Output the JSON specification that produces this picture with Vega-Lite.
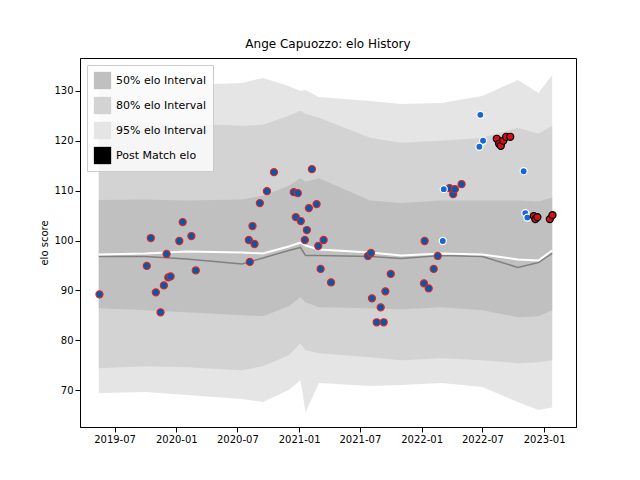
{
"$schema":"https://vega.github.io/schema/vega-lite/v6.json",
"width":496,"height":369,"autosize":"none",
"padding":{"left":80,"top":58,"right":64,"bottom":53},
"background":"white",
"title":{"text":"Ange Capuozzo: elo History","fontSize":12,"fontWeight":"normal","font":"DejaVu Sans","offset":7},
"config":{"font":"DejaVu Sans","view":{"stroke":"black"},"axis":{"grid":false,"labelFont":"DejaVu Sans","labelFontSize":10,"titleFont":"DejaVu Sans","titleFontWeight":"normal","titleFontSize":10,"domainColor":"black","tickColor":"black","labelColor":"black"}},
"datasets":{
"bands":[
{"date":"2019-05-15","lo95":69.4,"lo80":74.4,"lo50":86.4,"hi50":108.1,"hi80":123.8,"hi95":130.8,"mean":97.2,"med":96.8},
{"date":"2019-10-01","lo95":69.6,"lo80":74.8,"lo50":86.0,"hi50":108.2,"hi80":123.6,"hi95":131.0,"mean":97.4,"med":96.8},
{"date":"2020-02-01","lo95":69.0,"lo80":74.6,"lo50":85.6,"hi50":108.0,"hi80":123.4,"hi95":131.2,"mean":97.8,"med":96.3},
{"date":"2020-07-15","lo95":68.2,"lo80":74.0,"lo50":85.0,"hi50":108.2,"hi80":123.0,"hi95":131.6,"mean":97.6,"med":95.3},
{"date":"2020-09-15","lo95":67.6,"lo80":74.8,"lo50":84.8,"hi50":109.0,"hi80":123.2,"hi95":132.6,"mean":97.4,"med":96.5},
{"date":"2020-12-01","lo95":70.0,"lo80":77.0,"lo50":86.8,"hi50":111.0,"hi80":125.0,"hi95":131.0,"mean":98.8,"med":98.0},
{"date":"2021-01-05","lo95":72.0,"lo80":79.4,"lo50":88.6,"hi50":112.5,"hi80":126.0,"hi95":130.0,"mean":99.6,"med":98.6},
{"date":"2021-01-20","lo95":65.5,"lo80":78.0,"lo50":87.6,"hi50":111.8,"hi80":125.4,"hi95":130.2,"mean":99.0,"med":97.0},
{"date":"2021-03-01","lo95":71.4,"lo80":77.4,"lo50":86.6,"hi50":112.5,"hi80":124.6,"hi95":128.8,"mean":98.2,"med":97.0},
{"date":"2021-08-01","lo95":70.8,"lo80":76.6,"lo50":86.4,"hi50":108.0,"hi80":120.6,"hi95":128.0,"mean":97.6,"med":96.8},
{"date":"2021-11-01","lo95":71.0,"lo80":76.0,"lo50":86.2,"hi50":107.5,"hi80":119.6,"hi95":127.4,"mean":97.0,"med":96.4},
{"date":"2022-03-01","lo95":71.4,"lo80":76.4,"lo50":86.6,"hi50":108.0,"hi80":120.0,"hi95":127.6,"mean":97.4,"med":97.0},
{"date":"2022-07-01","lo95":70.6,"lo80":76.0,"lo50":86.0,"hi50":108.0,"hi80":120.6,"hi95":129.0,"mean":97.2,"med":96.8},
{"date":"2022-10-15","lo95":67.6,"lo80":75.4,"lo50":84.6,"hi50":108.0,"hi80":122.6,"hi95":132.2,"mean":96.2,"med":94.6},
{"date":"2022-12-15","lo95":66.0,"lo80":75.6,"lo50":84.8,"hi50":107.8,"hi80":121.4,"hi95":129.6,"mean":96.0,"med":95.6},
{"date":"2023-01-25","lo95":66.5,"lo80":76.0,"lo50":86.0,"hi50":108.6,"hi80":123.0,"hi95":133.2,"mean":98.0,"med":97.4}
],
"pts":[
{"date":"2019-05-17","elo":89.2,"g":"a"},{"date":"2019-10-05","elo":94.9,"g":"a"},{"date":"2019-10-17","elo":100.5,"g":"a"},{"date":"2019-11-01","elo":89.6,"g":"a"},{"date":"2019-11-15","elo":85.6,"g":"a"},{"date":"2019-11-25","elo":91.0,"g":"a"},{"date":"2019-12-08","elo":92.6,"g":"a"},{"date":"2019-12-15","elo":92.8,"g":"a"},{"date":"2019-12-03","elo":97.3,"g":"a"},{"date":"2020-01-10","elo":99.9,"g":"a"},{"date":"2020-01-20","elo":103.7,"g":"a"},{"date":"2020-02-15","elo":100.9,"g":"a"},{"date":"2020-02-28","elo":94.0,"g":"a"},
{"date":"2020-08-04","elo":100.1,"g":"a"},{"date":"2020-08-07","elo":95.7,"g":"a"},{"date":"2020-08-15","elo":102.9,"g":"a"},{"date":"2020-08-21","elo":99.3,"g":"a"},{"date":"2020-09-06","elo":107.5,"g":"a"},{"date":"2020-09-27","elo":109.9,"g":"a"},{"date":"2020-10-18","elo":113.7,"g":"a"},{"date":"2020-12-16","elo":109.7,"g":"a"},{"date":"2020-12-28","elo":109.5,"g":"a"},{"date":"2020-12-22","elo":104.7,"g":"a"},{"date":"2021-01-06","elo":103.9,"g":"a"},{"date":"2021-01-18","elo":100.1,"g":"a"},{"date":"2021-01-24","elo":102.1,"g":"a"},{"date":"2021-01-30","elo":106.5,"g":"a"},{"date":"2021-02-08","elo":114.3,"g":"a"},{"date":"2021-02-22","elo":107.3,"g":"a"},{"date":"2021-02-27","elo":98.9,"g":"a"},{"date":"2021-03-06","elo":94.3,"g":"a"},{"date":"2021-03-15","elo":100.1,"g":"a"},{"date":"2021-04-06","elo":91.6,"g":"a"},
{"date":"2021-07-25","elo":96.9,"g":"a"},{"date":"2021-08-03","elo":97.5,"g":"a"},{"date":"2021-08-06","elo":88.4,"g":"a"},{"date":"2021-08-20","elo":83.6,"g":"a"},{"date":"2021-09-01","elo":86.6,"g":"a"},{"date":"2021-09-10","elo":83.6,"g":"a"},{"date":"2021-09-15","elo":89.8,"g":"a"},{"date":"2021-10-01","elo":93.3,"g":"a"},
{"date":"2022-01-10","elo":99.9,"g":"a"},{"date":"2022-01-08","elo":91.4,"g":"a"},{"date":"2022-01-22","elo":90.4,"g":"a"},{"date":"2022-02-06","elo":94.3,"g":"a"},{"date":"2022-02-18","elo":96.9,"g":"a"},{"date":"2022-03-25","elo":110.5,"g":"a"},{"date":"2022-04-05","elo":109.3,"g":"a"},{"date":"2022-04-10","elo":110.3,"g":"a"},{"date":"2022-04-30","elo":111.3,"g":"a"},
{"date":"2022-03-08","elo":110.3,"g":"b"},{"date":"2022-03-05","elo":99.9,"g":"b"},{"date":"2022-06-25","elo":125.2,"g":"b"},{"date":"2022-07-03","elo":120.0,"g":"b"},{"date":"2022-06-22","elo":118.8,"g":"b"},{"date":"2022-11-01","elo":113.9,"g":"b"},{"date":"2022-11-06","elo":105.5,"g":"b"},{"date":"2022-11-12","elo":104.6,"g":"b"},
{"date":"2022-08-13","elo":120.4,"g":"c"},{"date":"2022-08-20","elo":119.4,"g":"c"},{"date":"2022-08-25","elo":119.0,"g":"c"},{"date":"2022-09-01","elo":120.0,"g":"c"},{"date":"2022-09-10","elo":120.8,"g":"c"},{"date":"2022-09-22","elo":120.8,"g":"c"},{"date":"2022-12-01","elo":104.9,"g":"c"},{"date":"2022-12-06","elo":104.3,"g":"c"},{"date":"2022-12-12","elo":104.7,"g":"c"},{"date":"2023-01-18","elo":104.3,"g":"c"},{"date":"2023-01-26","elo":105.1,"g":"c"}
]},
"encoding":{
"x":{"field":"date","type":"temporal","title":null,"scale":{"domain":[{"year":2019,"month":3,"date":20},{"year":2023,"month":4,"date":6}]},"axis":{"format":"%Y-%m","values":[{"year":2019,"month":7,"date":1},{"year":2020,"month":1,"date":1},{"year":2020,"month":7,"date":1},{"year":2021,"month":1,"date":1},{"year":2021,"month":7,"date":1},{"year":2022,"month":1,"date":1},{"year":2022,"month":7,"date":1},{"year":2023,"month":1,"date":1}]}}
},
"layer":[
{"data":{"name":"bands"},"transform":[{"calculate":"'95% elo Interval'","as":"band"}],"mark":{"type":"area","opacity":1},
"encoding":{"y":{"field":"lo95","type":"quantitative","title":"elo score","scale":{"domain":[62.6,136.6],"nice":false},"axis":{"values":[70,80,90,100,110,120,130]}},"y2":{"field":"hi95"},
"fill":{"field":"band","type":"nominal","scale":{"domain":["50% elo Interval","80% elo Interval","95% elo Interval","Post Match elo"],"range":["#c0c0c0","#d3d3d3","#e5e5e5","black"]},"legend":{"title":null,"orient":"top-left","offset":7,"symbolType":"square","symbolSize":300,"labelFontSize":11,"fillColor":"rgba(255,255,255,0.8)","strokeColor":"#cccccc","padding":6,"labelLimit":300,"rowPadding":6,
"encode":{"symbols":{"update":{"shape":{"signal":"datum.label=='Post Match elo'?'circle':'M-1.6,-0.55H1.6V0.55H-1.6Z'"},"size":{"signal":"datum.label=='Post Match elo'?120:100"},"stroke":{"signal":"datum.label=='Post Match elo'?'black':'#aaaaaa'"},"strokeWidth":{"value":0.5}}}}}}}},
{"data":{"name":"bands"},"transform":[{"calculate":"'80% elo Interval'","as":"band"}],"mark":{"type":"area"},
"encoding":{"y":{"field":"lo80","type":"quantitative"},"y2":{"field":"hi80"},"fill":{"field":"band","type":"nominal"}}},
{"data":{"name":"bands"},"transform":[{"calculate":"'50% elo Interval'","as":"band"}],"mark":{"type":"area"},
"encoding":{"y":{"field":"lo50","type":"quantitative"},"y2":{"field":"hi50"},"fill":{"field":"band","type":"nominal"}}},
{"data":{"name":"bands"},"mark":{"type":"line","color":"#808080","strokeWidth":1.5},"encoding":{"y":{"field":"med","type":"quantitative"}}},
{"data":{"name":"bands"},"mark":{"type":"line","color":"white","strokeWidth":2},"encoding":{"y":{"field":"mean","type":"quantitative"}}},
{"data":{"name":"pts"},"mark":{"type":"point","filled":true,"size":50,"strokeWidth":1.2,"opacity":1,"shape":"circle"},
"encoding":{"y":{"field":"elo","type":"quantitative"},
"color":{"field":"g","type":"nominal","scale":{"domain":["a","b","c"],"range":["#0d56a6","#1666d8","#d0101a"]},"legend":null},
"stroke":{"field":"g","type":"nominal","scale":{"domain":["a","b","c"],"range":["#d62728","white","black"]},"legend":null}}}
]
}
